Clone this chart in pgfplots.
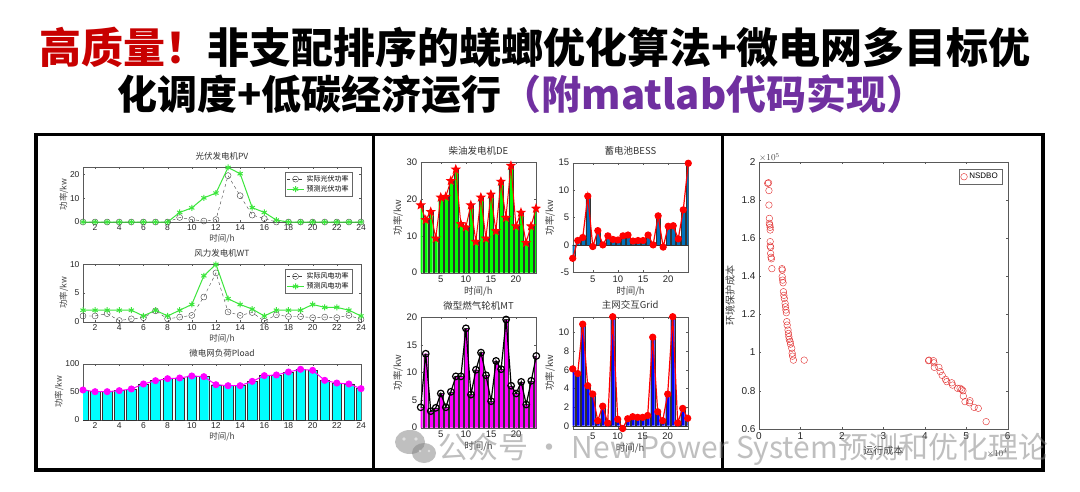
\documentclass[border=0pt]{standalone}
\usepackage{pgfplots}
\usepackage{pgfplotstable}
\pgfplotsset{compat=1.18}
\usepackage{fontspec}
\setmainfont{Liberation Sans}
\newfontfamily\cjk{Noto Sans CJK SC}
\usetikzlibrary{plotmarks}
\definecolor{tred}{RGB}{200,0,0}
\definecolor{tpurple}{RGB}{112,48,160}
\definecolor{mblue}{RGB}{0,114,189}
\definecolor{pgreen}{RGB}{60,230,60}
\definecolor{sred}{RGB}{225,40,40}
\definecolor{mcyan}{RGB}{0,255,255}
\definecolor{mmag}{RGB}{255,0,255}
\definecolor{mgreen}{RGB}{0,255,0}
\definecolor{mpblue}{RGB}{0,0,255}
\definecolor{mred}{RGB}{255,0,0}

\pgfdeclareplotmark{pentagram}{%
 \pgfpathmoveto{\pgfpointpolar{90}{\pgfplotmarksize}}%
 \pgfpathlineto{\pgfpointpolar{126}{0.42\pgfplotmarksize}}%
 \pgfpathlineto{\pgfpointpolar{162}{\pgfplotmarksize}}%
 \pgfpathlineto{\pgfpointpolar{198}{0.42\pgfplotmarksize}}%
 \pgfpathlineto{\pgfpointpolar{234}{\pgfplotmarksize}}%
 \pgfpathlineto{\pgfpointpolar{270}{0.42\pgfplotmarksize}}%
 \pgfpathlineto{\pgfpointpolar{306}{\pgfplotmarksize}}%
 \pgfpathlineto{\pgfpointpolar{342}{0.42\pgfplotmarksize}}%
 \pgfpathlineto{\pgfpointpolar{18}{\pgfplotmarksize}}%
 \pgfpathlineto{\pgfpointpolar{54}{0.42\pgfplotmarksize}}%
 \pgfpathclose\pgfusepathqfillstroke}

\pgfplotstableread{
h pvA pvP wtA wtP load
1 0 0 1.0 2 53.6
2 0 0 1.0 2 50.6
3 0 0 1.4 2 50.6
4 0 0 0.2 2 52.4
5 0 0 0.5 2 55.4
6 0 0 0.7 1 64.3
7 0 0 1.9 2 70.2
8 0 0 0.5 1 73.8
9 1.9 4 0.8 2 75
10 1.0 5.9 1.1 3 78.6
11 0.4 10.1 4.3 8 77.4
12 1.0 12.1 8.5 10 63
13 19.4 22.8 1.7 4 61.3
14 11 20.2 1.1 3 61.3
15 2.9 6 1.6 2.2 69
16 1.4 4 0.1 1 79.2
17 0 0.8 1.2 2 80.4
18 0 0 0.9 2 85.7
19 0 0 0.9 2 90.5
20 0 0 0.7 3 88.7
21 0 0 0.8 2.5 70.8
22 0 0 0.7 2.5 66
23 0 0 1.1 2 64.3
24 0 0 0.4 1 56
}\pone

\pgfplotstableread{
h de bess mt grid
1 18.3 -2.45 3.7 6.1
2 14.3 0.8 13.4 5.6
3 16.5 1.35 3.0 10.9
4 9.3 8.9 3.6 4.3
5 20.4 -0.3 6.2 3.4
6 20.6 2.6 3.7 0.54
7 24.9 0 6.5 2.1
8 28 1.65 9.3 0.3
9 13.2 1.0 9.3 11.7
10 12.3 0.9 18 0.7
11 18.3 1.65 6.0 -0.3
12 8.4 1.8 10.5 0.75
13 20.4 0.7 13.6 0.97
14 9.3 0.8 9.5 0.9
15 21.2 0.8 4.8 0.9
16 11.3 1.8 12.1 1.1
17 24.7 0 10.6 9.5
18 14.9 5.3 19.6 1.5
19 29 -0.4 7.6 0.54
20 12.6 3.4 6.2 3.4
21 16.3 3.5 8.3 11.7
22 8.1 1.1 4.2 0.3
23 12.6 6.4 8.5 1.86
24 17.4 14.9 13.0 0.8
}\ptwo

\pgfplotstableread{
c e
0.21 1.888
0.23 1.891
0.24 1.85
0.24 1.774
0.25 1.704
0.25 1.678
0.26 1.669
0.27 1.657
0.27 1.643
0.27 1.582
0.27 1.559
0.28 1.552
0.28 1.52
0.29 1.50
0.30 1.492
0.31 1.44
0.555 1.44
0.56 1.433
0.56 1.398
0.57 1.38
0.58 1.366
0.59 1.319
0.60 1.30
0.61 1.284
0.63 1.258
0.64 1.24
0.65 1.223
0.66 1.209
0.67 1.162
0.68 1.144
0.70 1.118
0.71 1.10
0.72 1.083
0.73 1.069
0.75 1.057
0.76 1.044
0.79 1.022
0.80 0.996
0.81 0.981
0.83 0.96
1.09 0.96
4.09 0.957
4.10 0.96
4.21 0.957
4.22 0.946
4.23 0.922
4.34 0.922
4.37 0.90
4.42 0.88
4.50 0.859
4.53 0.847
4.65 0.841
4.67 0.829
4.79 0.812
4.85 0.812
4.89 0.806
4.92 0.799
4.93 0.771
4.97 0.742
5.08 0.736
5.09 0.747
5.19 0.712
5.29 0.707
5.48 0.637
}\pthree

\pgfplotsset{
 mlab/.style={scale only axis, anchor=south west,
  axis line style={black!65}, tick style={black!65}, tick align=inside,
  xtick pos=both, ytick pos=both, major tick length=2pt,
  ticklabel style={text=black!85},
  label style={text=black!75},
  title style={text=black!80, inner sep=1pt},
  /pgf/number format/assume math mode=true,
  clip mode=individual},
 pa/.style={mlab, width=278pt, xmin=1, xmax=24, xtick={2,4,...,24},
  tick label style={font=\fontsize{8.5}{9}\selectfont},
  label style={font=\cjk\fontsize{8.5}{9}\selectfont},
  title style={font=\cjk\fontsize{8.5}{9}\selectfont},
  xlabel={时间/h}, ylabel={功率/kw},
  xticklabel style={yshift=1pt}, xlabel style={yshift=3pt}, ylabel style={yshift=-5pt},
  legend style={at={(1,1)}, anchor=north east, draw=black!60,
   font=\cjk\fontsize{7}{8}\selectfont, inner sep=1.5pt, row sep=-1.5pt},
  legend cell align=left},
 pb/.style={mlab, xmin=1, xmax=24, xtick={5,10,15,20},
  tick label style={font=\fontsize{9.5}{10}\selectfont},
  label style={font=\cjk\fontsize{9.5}{10}\selectfont},
  title style={font=\cjk\fontsize{9.5}{10}\selectfont},
  xlabel={时间/h}, ylabel={功率/kw}, xlabel style={yshift=3pt}, ylabel style={yshift=-3pt}}
}

\begin{document}
\begin{tikzpicture}[x=1pt,y=1pt]
\fill[white] (0,0) rectangle (1080,491);

% title
\node[anchor=center, inner sep=0pt] at (535,444) {\cjk\bfseries\fontsize{42}{42}\selectfont{\color{tred}高质量！}非支配排序的蜣螂优化算法+微电网多目标优};
\node[anchor=center, inner sep=0pt] at (522,397) {\cjk\bfseries\fontsize{40}{41}\selectfont 化调度+低碳经济运行{\color{tpurple}（附matlab代码实现）}};

% ---------- panel 1 ----------
\begin{axis}[pa, at={(83pt,269pt)}, height=55pt, ymin=0, ymax=23, ytick={0,10,20},
  title={光伏发电机PV}, legend style={xshift=-8.7pt, yshift=-4.7pt}]
\addplot[black!75, dashed, mark=o, mark options={solid}, mark size=3pt] table[x=h,y=pvA]{\pone};
\addlegendentry{实际光伏功率}
\addplot[pgreen, line width=1pt, mark=asterisk, mark size=3pt] table[x=h,y=pvP]{\pone};
\addlegendentry{预测光伏功率}
\end{axis}

\begin{axis}[pa, at={(83pt,169.3pt)}, height=57.4pt, ymin=0, ymax=10, ytick={0,5,10},
  title={风力发电机WT}, legend style={xshift=-8.7pt, yshift=-4.7pt}]
\addplot[black!75, dashed, mark=o, mark options={solid}, mark size=3pt] table[x=h,y=wtA]{\pone};
\addlegendentry{实际风电功率}
\addplot[pgreen, line width=1pt, mark=asterisk, mark size=3pt] table[x=h,y=wtP]{\pone};
\addlegendentry{预测风电功率}
\end{axis}

\begin{axis}[pa, at={(83pt,71pt)}, height=56pt, ymin=0, ymax=100, ytick={0,50,100},
  title={微电网负荷Pload}]
\addplot[ybar, bar width=0.8, fill=mcyan, draw=black!80] table[x=h,y=load]{\pone};
\addplot[mmag, line width=1pt, mark=*, mark size=3pt] table[x=h,y=load]{\pone};
\end{axis}

% ---------- panel 2 ----------
\begin{axis}[pb, at={(420.7pt,218.3pt)}, width=115.3pt, height=110.7pt,
  ymin=0, ymax=30, ytick={0,10,20,30}, title={柴油发电机DE}]
\addplot[ybar, bar width=0.8, fill=mgreen, draw=black!80] table[x=h,y=de]{\ptwo};
\addplot[mred, line width=1pt, mark=pentagram, mark size=4pt, mark options={fill=mred}] table[x=h,y=de]{\ptwo};
\end{axis}

\begin{axis}[pb, at={(572.7pt,218.7pt)}, width=115.6pt, height=109.6pt,
  ymin=-5, ymax=15, ytick={-5,0,5,10,15}, title={蓄电池BESS}]
\addplot[ybar, bar width=0.8, fill=mblue, draw=black!80] table[x=h,y=bess]{\ptwo};
\addplot[mred, line width=1.2pt, mark=*, mark size=3pt] table[x=h,y=bess]{\ptwo};
\end{axis}

\begin{axis}[pb, at={(420.7pt,63.3pt)}, width=115.6pt, height=110.4pt,
  ymin=0, ymax=20, ytick={0,5,10,15,20}, title={微型燃气轮机MT}]
\addplot[ybar, bar width=0.8, fill=mmag, draw=black!80] table[x=h,y=mt]{\ptwo};
\addplot[black, line width=1.2pt, mark=o, mark size=3.3pt, mark options={fill=white}] table[x=h,y=mt]{\ptwo};
\end{axis}

\begin{axis}[pb, at={(572.7pt,62pt)}, width=115pt, height=112.3pt,
  ymin=-0.35, ymax=11.7, ytick={0,2,4,6,8,10}, title={主网交互Grid}]
\addplot[ybar, bar width=0.8, fill=mpblue, draw=black!80] table[x=h,y=grid]{\ptwo};
\addplot[mred, line width=1.2pt, mark=*, mark size=3pt] table[x=h,y=grid]{\ptwo};
\end{axis}

% ---------- panel 3 ----------
\begin{axis}[mlab, at={(759pt,62.3pt)}, width=248.7pt, height=266.7pt,
  xmin=0, xmax=6, ymin=0.6, ymax=2, xtick={0,1,...,6}, ytick={0.6,0.8,...,2.0},
  yticklabel style={/pgf/number format/.cd, fixed, precision=1},
  tick label style={font=\fontsize{10}{11}\selectfont},
  label style={font=\cjk\fontsize{10}{11}\selectfont},
  xlabel={运行成本}, ylabel={环境保护成本},
  legend style={at={(1,1)}, anchor=north east, xshift=-5.7pt, yshift=-7pt, draw=black!60,
   font=\fontsize{8}{9}\selectfont, inner sep=2pt}]
\addplot[only marks, sred, mark=o, mark size=3.3pt, thin] table[x=c,y=e]{\pthree};
\addlegendentry{NSDBO}
\node[anchor=south west, inner sep=0pt, text=black!75, font=\fontsize{9}{10}\selectfont] at (rel axis cs:0,1) {$\times 10^{5}$};
\node[anchor=north east, inner sep=0pt, text=black!75, font=\fontsize{9}{10}\selectfont] at ([yshift=-20pt]rel axis cs:1,0) {$\times 10^{4}$};
\end{axis}

% frames
\draw[line width=3.5pt, black] (36,356.3) rectangle (1043,21);
\draw[line width=3.5pt, black] (373.3,356.3) -- (373.3,21);
\draw[line width=3.5pt, black] (722.3,356.3) -- (722.3,21);

% watermark
\begin{scope}[opacity=0.5]
\fill[gray] (410,49) ellipse [x radius=15, y radius=12];
\fill[gray] (424,38) ellipse [x radius=12, y radius=10];
\fill[white] (404,52) circle (1.8) (416,52) circle (1.8);
\fill[white] (420,40) circle (1.4) (429,40) circle (1.4);
\node[anchor=west, inner sep=0pt, text=gray] at (438,42) {\cjk\fontsize{30}{30}\selectfont 公众号 · New Power System预测和优化理论};
\end{scope}
\end{tikzpicture}
\end{document}
